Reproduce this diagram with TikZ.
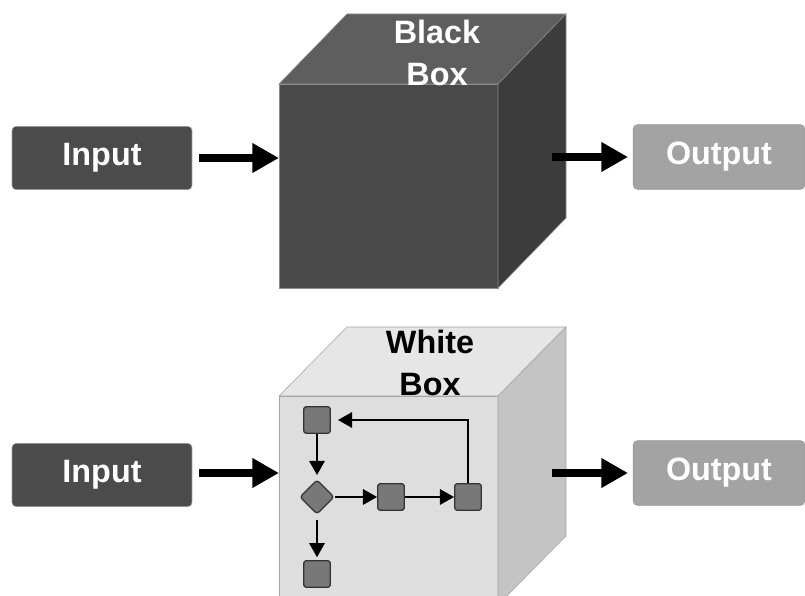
\documentclass[tikz,border=0pt]{standalone}
\usepackage{fontspec}
\setmainfont{Liberation Sans}
\usetikzlibrary{arrows.meta}

\definecolor{darkFill}{RGB}{75,75,75}
\definecolor{lightFill}{RGB}{163,163,163}
\definecolor{blackFront}{RGB}{73,73,73}
\definecolor{blackTop}{RGB}{94,94,94}
\definecolor{blackSide}{RGB}{60,60,60}
\definecolor{whiteFront}{RGB}{222,222,222}
\definecolor{whiteTop}{RGB}{230,230,230}
\definecolor{whiteSide}{RGB}{196,196,196}
\definecolor{stepFill}{RGB}{120,120,120}

\tikzset{
  ioBox/.style={draw=gray!80, rounded corners=3pt, minimum width=128pt, minimum height=45pt,
    text=white, font=\fontsize{23}{26}\selectfont\bfseries},
  inBox/.style={ioBox, fill=darkFill},
  outBox/.style={ioBox, fill=lightFill, minimum width=122pt, minimum height=46pt},
  bigArrow/.style={line width=5pt, -{Triangle[length=19pt,width=20pt]}},
  stepBox/.style={draw=black!80, fill=stepFill, rounded corners=2pt, line width=0.9pt,
    minimum size=19pt, inner sep=0pt},
  flowArrow/.style={line width=1.2pt, -{Triangle[length=10pt,width=11pt]}},
  boxLabel/.style={align=center, inner sep=0pt, font=\fontsize{23}{30}\selectfont\bfseries}
}

\begin{document}
\begin{tikzpicture}[x=0.025cm, y=-0.025cm]
  \useasboundingbox (0,0) rectangle (805,596);
  % Black box
  \draw[draw=gray!90, fill=blackFront] (279,84) rectangle (498,288);
  \draw[draw=gray!90, fill=blackTop] (279,84) -- (347,14) -- (566,14) -- (498,84) -- cycle;
  \draw[draw=gray!90, fill=blackSide] (498,84) -- (566,14) -- (566,218) -- (498,288) -- cycle;
  \node[boxLabel, text=white] (blackLabel) at (437,53) {Black\\Box};
  % White box
  \draw[draw=gray!70, fill=whiteFront] (279,396) rectangle (498,670);
  \draw[draw=gray!70, fill=whiteTop] (279,396) -- (347,327) -- (566,327) -- (498,396) -- cycle;
  \draw[draw=gray!70, fill=whiteSide] (498,396) -- (566,327) -- (566,536) -- (498,605) -- cycle;
  \node[boxLabel, text=black] (whiteLabel) at (430,363) {White\\Box};

  % Inputs
  \node[inBox] (inTop) at (102,158) {Input};
  \node[inBox] (inBottom) at (102,475) {Input};
  \coordinate (blackIn) at (279,158);
  \coordinate (whiteIn) at (279,473);
  \draw[bigArrow, shorten <=5pt] (inTop) -- (blackIn);
  \draw[bigArrow, shorten <=5pt] (inBottom.east |- whiteIn) -- (whiteIn);

  % Outputs
  \node[outBox] (outTop) at (719,157) {Output};
  \node[outBox] (outBottom) at (719,473) {Output};
  \coordinate (blackOut) at (552,157);
  \coordinate (whiteOut) at (552,473);
  \draw[bigArrow, shorten >=3.5pt] (blackOut) -- (outTop);
  \draw[bigArrow, shorten >=3.5pt] (whiteOut) -- (outBottom);

  % Inside the white box
  \node[stepBox] (stepA) at (317,420) {};
  \node[stepBox, minimum size=17pt, rotate=45] (decide) at (317,497) {};
  \node[stepBox] (stepB) at (391,497) {};
  \node[stepBox] (stepC) at (468,497) {};
  \node[stepBox] (stepD) at (317,574) {};
  \draw[flowArrow, shorten >=3pt] (stepA) -- (decide.north east);
  \draw[flowArrow] (decide.south east) -- (stepB);
  \draw[flowArrow] (stepB) -- (stepC);
  \draw[flowArrow, shorten >=5pt] (stepC) |- (stepA);
  \draw[flowArrow, shorten <=4pt, shorten >=2pt] (decide.south west) -- (stepD);
\end{tikzpicture}
\end{document}
